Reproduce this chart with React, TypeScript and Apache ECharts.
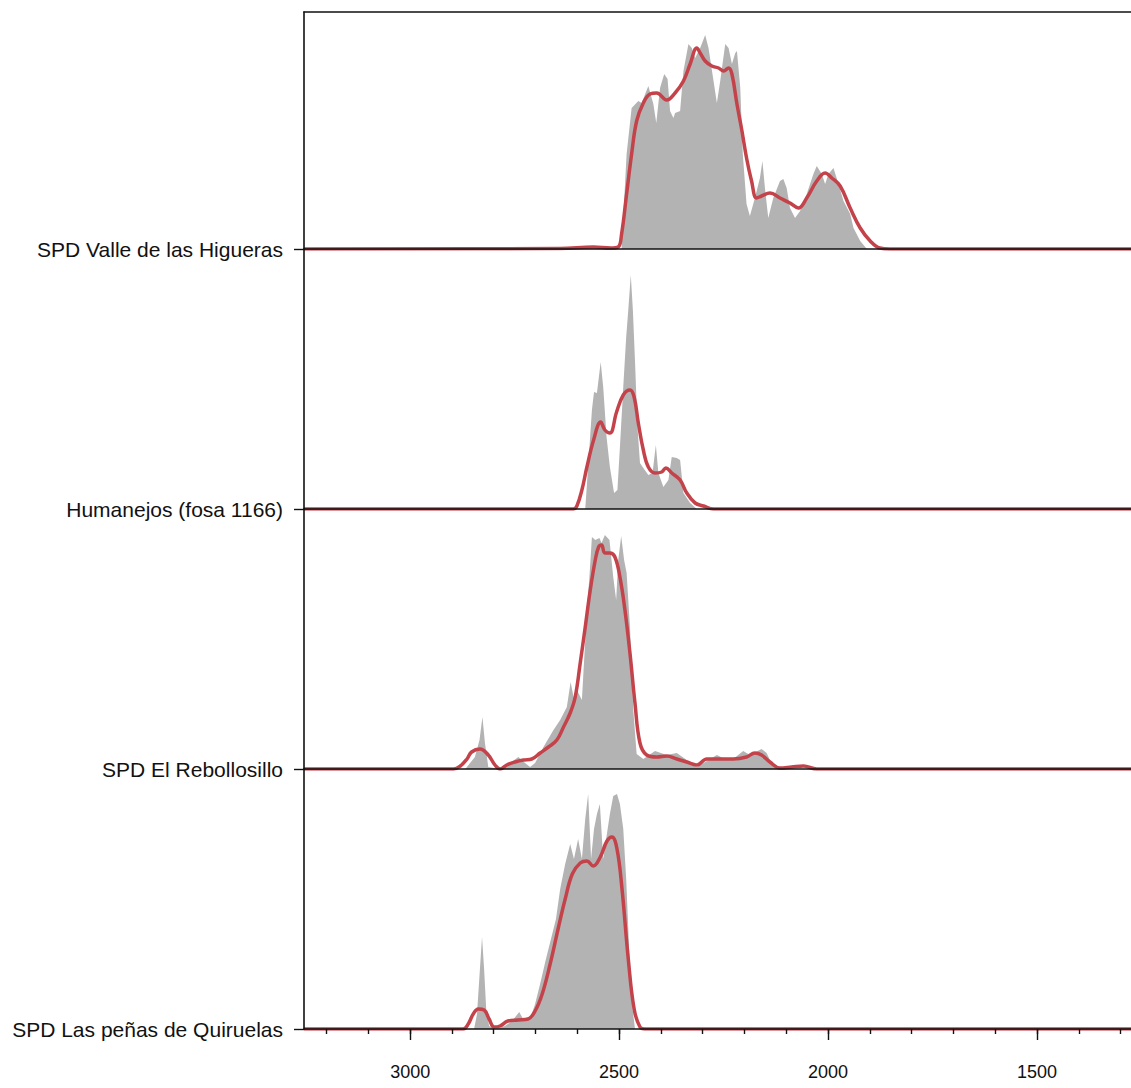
import React, { useEffect, useRef } from "react";
import * as echarts from "echarts";

// Sites (ridge labels, top to bottom)
const sites = [
  "SPD Valle de las Higueras",
  "Humanejos (fosa 1166)",
  "SPD El Rebollosillo",
  "SPD Las peñas de Quiruelas",
];

// x axis (cal BC, reversed)
const xMin = 1275;
const xMax = 3254;
const majorTicks = [3000, 2500, 2000, 1500];
const minorTicks = [3200, 3100, 3000, 2900, 2800, 2700, 2600, 2500, 2400, 2300, 2200, 2100, 2000, 1900, 1800, 1700, 1600, 1500, 1400, 1300];

// Summed probability (grey) and KDE (red) for each site: [year, density]
const higuerasSum: number[][] = [
  [2494, 0], [2482, 95], [2470, 141], [2454, 148], [2446, 146], [2430, 163], [2418, 145], [2411, 126],
  [2402, 161], [2392, 175], [2384, 170], [2378, 138], [2370, 131], [2366, 136], [2354, 138], [2346, 178],
  [2334, 205], [2326, 201], [2318, 191], [2306, 201], [2294, 214], [2286, 201], [2274, 168], [2266, 146],
  [2258, 168], [2246, 205], [2238, 201], [2230, 185], [2222, 196], [2218, 198], [2210, 161], [2204, 95],
  [2195, 45], [2187, 33], [2175, 51], [2163, 71], [2157, 88], [2151, 61], [2143, 31], [2131, 51],
  [2115, 68], [2107, 70], [2099, 61], [2091, 41], [2079, 31], [2067, 38], [2051, 55], [2035, 75],
  [2027, 83], [2015, 75], [2007, 65], [1999, 75], [1987, 81], [1975, 65], [1963, 48], [1947, 35],
  [1939, 21], [1923, 8], [1907, 0],
];
const higuerasKde: number[][] = [
  [3254, 0], [2641, 0.5], [2561, 2], [2520, 1], [2502, 2], [2494, 15], [2482, 55], [2470, 95],
  [2458, 128], [2442, 146], [2426, 155], [2410, 156], [2386, 149], [2366, 156], [2346, 168], [2330, 185],
  [2314, 201], [2306, 196], [2294, 188], [2278, 183], [2262, 181], [2250, 178], [2238, 181], [2230, 175],
  [2218, 145], [2206, 118], [2195, 91], [2183, 68], [2171, 51], [2159, 53], [2139, 56], [2115, 51],
  [2091, 46], [2071, 41], [2051, 51], [2027, 68], [2007, 76], [1991, 71], [1971, 63], [1947, 41],
  [1923, 21], [1899, 8], [1876, 1], [1852, 0], [1275, 0],
];

const humanejosSum: number[][] = [
  [2581, 0], [2573, 49], [2565, 99], [2560, 117], [2553, 116], [2544, 147], [2538, 122], [2530, 72],
  [2522, 42], [2512, 16], [2504, 19], [2498, 62], [2490, 122], [2483, 172], [2478, 199], [2472, 234],
  [2467, 199], [2462, 149], [2456, 82], [2450, 46], [2442, 41], [2430, 34], [2420, 36], [2412, 64],
  [2406, 36], [2394, 22], [2382, 29], [2374, 52], [2362, 51], [2354, 49], [2346, 16], [2330, 6], [2314, 0],
];
const humanejosKde: number[][] = [
  [3254, 0], [2609, 0], [2601, 3], [2589, 19], [2577, 42], [2561, 69], [2544, 87], [2534, 79],
  [2522, 76], [2506, 97], [2490, 114], [2474, 119], [2464, 112], [2454, 86], [2442, 59], [2430, 42],
  [2414, 36], [2398, 37], [2388, 41], [2374, 36], [2354, 29], [2338, 16], [2318, 6], [2298, 3],
  [2274, 0], [1275, 0],
];

const rebollosilloSum: number[][] = [
  [2868, 0], [2845, 12], [2834, 29], [2827, 52], [2821, 26], [2813, 2], [2785, 0], [2761, 6],
  [2741, 12], [2725, 6], [2713, 2], [2701, 6], [2681, 22], [2657, 39], [2641, 49], [2625, 62],
  [2616, 87], [2609, 72], [2601, 79], [2589, 69], [2577, 159], [2571, 192], [2565, 232], [2557, 229],
  [2547, 231], [2542, 226], [2534, 234], [2523, 229], [2514, 192], [2507, 169], [2502, 209], [2495, 233],
  [2488, 209], [2482, 196], [2474, 142], [2466, 59], [2458, 15], [2442, 10], [2414, 18], [2386, 14],
  [2362, 16], [2338, 9], [2314, 2], [2290, 8], [2266, 14], [2247, 10], [2227, 10], [2203, 18],
  [2187, 14], [2159, 20], [2147, 16], [2131, 2], [2119, 0],
];
const rebollosilloKde: number[][] = [
  [3254, 0], [2896, 0], [2880, 3], [2864, 10], [2853, 17], [2833, 20], [2813, 14], [2797, 4],
  [2785, 0], [2769, 4], [2749, 7], [2729, 9], [2709, 10], [2689, 16], [2669, 22], [2649, 29],
  [2633, 42], [2617, 56], [2605, 72], [2593, 106], [2581, 142], [2569, 179], [2557, 209], [2549, 222],
  [2542, 224], [2534, 216], [2522, 216], [2510, 212], [2498, 192], [2486, 159], [2474, 116], [2462, 66],
  [2450, 26], [2434, 14], [2410, 12], [2386, 13], [2362, 10], [2338, 7], [2314, 4], [2290, 10],
  [2258, 10], [2227, 10], [2195, 12], [2175, 16], [2159, 14], [2139, 7], [2115, 1], [2087, 2],
  [2059, 3], [2027, 0], [1275, 0],
];

const quiruelasSum: number[][] = [
  [2847, 0], [2840, 15], [2833, 60], [2828, 92], [2823, 60], [2818, 20], [2811, 3], [2797, 0],
  [2773, 3], [2756, 8], [2739, 17], [2727, 8], [2713, 10], [2701, 25], [2689, 45], [2675, 70],
  [2660, 95], [2651, 110], [2641, 140], [2629, 165], [2617, 185], [2608, 170], [2598, 190], [2589, 170],
  [2581, 210], [2574, 235], [2567, 170], [2560, 200], [2553, 215], [2546, 225], [2538, 170], [2531, 190],
  [2522, 215], [2514, 233], [2505, 235], [2498, 225], [2490, 200], [2483, 150], [2476, 80], [2469, 25],
  [2462, 0],
];
const quiruelasKde: number[][] = [
  [3254, 0], [2873, 0], [2861, 5], [2849, 15], [2837, 20], [2823, 19], [2811, 10], [2799, 2],
  [2785, 3], [2766, 8], [2742, 9], [2718, 10], [2701, 18], [2684, 35], [2665, 65], [2646, 100],
  [2629, 130], [2612, 155], [2593, 166], [2577, 168], [2562, 163], [2545, 172], [2529, 188], [2517, 192],
  [2505, 180], [2493, 140], [2478, 70], [2464, 20], [2450, 2], [2438, 0], [1275, 0],
];

const sumSeries = [higuerasSum, humanejosSum, rebollosilloSum, quiruelasSum];
const kdeSeries = [higuerasKde, humanejosKde, rebollosilloKde, quiruelasKde];

// layout
const frameTop = 12;
const baselines = [249, 509, 769, 1029];
const FONT = "'Liberation Sans', Arial, Helvetica, sans-serif";

export default function App() {
  const ref = useRef<HTMLDivElement>(null);
  useEffect(() => {
    if (!ref.current) return;
    const chart = echarts.init(ref.current, undefined, { renderer: "svg" });

    const grids: any[] = [];
    const xAxes: any[] = [];
    const yAxes: any[] = [];
    const series: any[] = [];

    baselines.forEach((b, i) => {
      const top = i === 0 ? frameTop : baselines[i - 1];
      const h = b - top;
      grids.push({ left: 304, right: 0, top, height: h, containLabel: false });
      xAxes.push({
        type: "value",
        gridIndex: i,
        min: xMin,
        max: xMax,
        inverse: true,
        position: "bottom",
        z: 5,
        axisLine: { show: true, onZero: false, lineStyle: { color: "#111", width: 1.6 } },
        axisTick: { show: false },
        axisLabel: { show: false },
        splitLine: { show: false },
      });
      yAxes.push({
        type: "value",
        gridIndex: i,
        min: 0,
        max: h,
        z: 5,
        axisLine: { show: true, lineStyle: { color: "#111", width: 1.6 } },
        axisTick: { show: true, customValues: [0], length: 10, lineStyle: { color: "#111", width: 1.4 } },
        axisLabel: {
          show: true,
          customValues: [0],
          formatter: () => sites[i],
          fontSize: 21,
          fontFamily: FONT,
          color: "#111",
          margin: 21,
        },
        splitLine: { show: false },
      });
    });
    // top frame line
    xAxes.push({
      type: "value",
      gridIndex: 0,
      min: xMin,
      max: xMax,
      inverse: true,
      position: "top",
      z: 5,
      axisLine: { show: true, onZero: false, lineStyle: { color: "#111", width: 1.6 } },
      axisTick: { show: false },
      axisLabel: { show: false },
      splitLine: { show: false },
    });
    // minor ticks on bottom axis
    xAxes.push({
      type: "value",
      gridIndex: 3,
      min: xMin,
      max: xMax,
      inverse: true,
      position: "bottom",
      z: 5,
      axisLine: { show: false, onZero: false },
      axisTick: { show: true, customValues: minorTicks, length: 5, lineStyle: { color: "#111", width: 1.4 } },
      axisLabel: { show: false },
      splitLine: { show: false },
    });
    // major ticks + labels on bottom axis
    xAxes.push({
      type: "value",
      gridIndex: 3,
      min: xMin,
      max: xMax,
      inverse: true,
      position: "bottom",
      z: 5,
      axisLine: { show: false, onZero: false },
      axisTick: { show: true, customValues: majorTicks, length: 11, lineStyle: { color: "#111", width: 1.4 } },
      axisLabel: {
        show: true,
        customValues: majorTicks,
        formatter: (v: number) => String(Math.round(v)),
        fontSize: 18,
        fontFamily: FONT,
        color: "#111",
        margin: 34,
      },
      splitLine: { show: false },
    });

    sumSeries.forEach((d, i) => {
      series.push({
        type: "line",
        xAxisIndex: i,
        yAxisIndex: i,
        data: d,
        showSymbol: false,
        symbol: "none",
        smooth: false,
        lineStyle: { width: 0, color: "#b3b3b3" },
        areaStyle: { color: "#b3b3b3", opacity: 1 },
        z: 2,
        silent: true,
      });
    });
    kdeSeries.forEach((d, i) => {
      series.push({
        type: "line",
        xAxisIndex: i,
        yAxisIndex: i,
        data: d,
        showSymbol: false,
        symbol: "none",
        smooth: 0.4,
        lineStyle: { width: 3.5, color: "#c4424a" },
        z: 3,
        silent: true,
      });
    });

    chart.setOption({
      animation: false,
      backgroundColor: "#ffffff",
      grid: grids,
      xAxis: xAxes,
      yAxis: yAxes,
      series,
    });
    return () => chart.dispose();
  }, []);

  return (
    <div
      ref={ref}
      style={{ position: "absolute", left: 0, top: 0, width: 1131, height: 1088, background: "#fff" }}
    />
  );
}
